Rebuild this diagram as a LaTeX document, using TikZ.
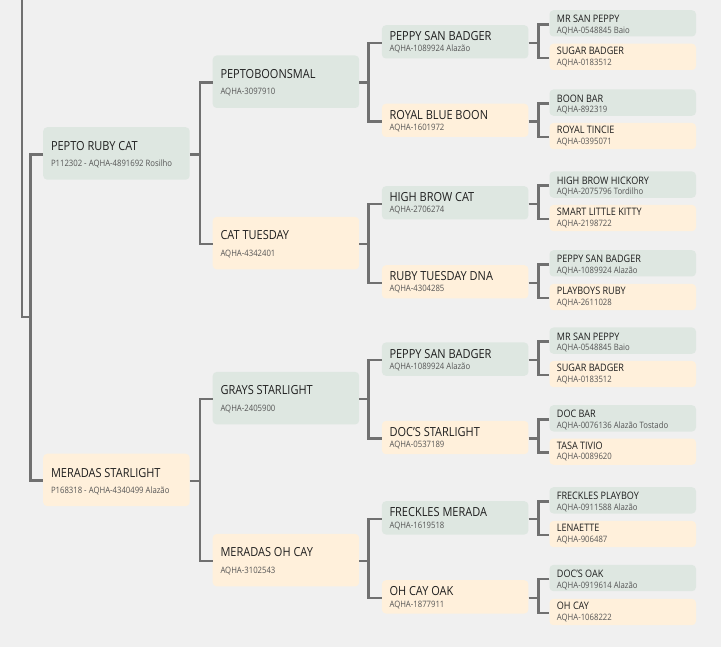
\documentclass[tikz,border=0pt]{standalone}
\usepackage{fontspec}
\setmainfont{Open Sans}[FakeStretch=0.88]
\definecolor{bgc}{RGB}{240,240,240}
\definecolor{grn}{RGB}{222,231,225}
\definecolor{crm}{RGB}{255,240,219}
\definecolor{lnc}{RGB}{112,112,112}
\definecolor{ttc}{RGB}{30,30,30}
\definecolor{sbc}{RGB}{85,85,85}
\tikzset{
  box/.style={rectangle,rounded corners=4pt,inner sep=0pt,draw=none,anchor=north west,minimum width=146.5pt},
  gbox/.style={box,fill=grn},
  cbox/.style={box,fill=crm},
  conn/.style={draw=lnc,line width=2.6pt},
  ttlA/.style={inner sep=0pt,anchor=base west,text=ttc,font=\fontsize{12.5}{14}\selectfont},
  ttlB/.style={inner sep=0pt,anchor=base west,text=ttc,font=\fontsize{10.3}{12}\selectfont},
  subt/.style={inner sep=0pt,anchor=base west,text=sbc,font=\fontsize{8.8}{10}\selectfont},
}
% big boxes (generations 1 and 2): name, x, ytop, style, title, sub, title offset, sub offset
\newcommand\horseA[8]{%
  \node[#4,minimum height=52.5pt] (#1) at (#2,#3) {};
  \node[ttlA] (#1t) at ([xshift=7.8pt,yshift=-#7]#1.north west) {#5};
  \node[subt] (#1s) at ([xshift=7.8pt,yshift=-#8]#1.north west) {#6};
}
% generation 3
\newcommand\horseB[6]{%
  \node[#4,minimum height=33.3pt] (#1) at (#2,#3) {};
  \node[ttlA] (#1t) at ([xshift=7.6pt,yshift=-15.8pt]#1.north west) {#5};
  \node[subt] (#1s) at ([xshift=7.6pt,yshift=-27pt]#1.north west) {#6};
}
% generation 4
\newcommand\horseC[8]{%
  \node[#4,minimum height=26.3pt] (#1) at (#2,#3) {};
  \node[ttlB] (#1t) at ([xshift=7.4pt,yshift=-#7]#1.north west) {#5};
  \node[subt] (#1s) at ([xshift=7.4pt,yshift=-#8]#1.north west) {#6};
}
\newcommand\horseG[6]{\horseC{#1}{#2}{#3}{gbox}{#5}{#6}{12.8pt}{23.6pt}}
\newcommand\horseK[6]{\horseC{#1}{#2}{#3}{cbox}{#5}{#6}{10.8pt}{21.6pt}}
% parent, child1, child2, bracket x
\newcommand\famlink[4]{%
  \coordinate (#1o) at ([yshift=-1pt]#1.east);
  \coordinate (#2i) at ([yshift=-1pt]#2.west);
  \coordinate (#3i) at ([yshift=-1pt]#3.west);
  \coordinate (#1k) at (#4,0);
  \draw[conn] (#1o) -- (#1o -| #1k);
  \draw[conn] (#2i) -| (#3i -| #1k) -- (#3i);
}
\newcommand\aps{{\char"0027}}
\begin{document}
\begin{tikzpicture}[x=1pt,y=-1pt]
\fill[bgc] (0,0) rectangle (721,647);
\useasboundingbox (0,0) rectangle (721,647);

% generation 1
\horseA{prc}{43}{127}{gbox}{PEPTO RUBY CAT}{P112302 - AQHA-4891692 Rosilho}{24pt}{40pt}
\horseA{ms}{43}{453.5}{cbox}{MERADAS STARLIGHT}{P168318 - AQHA-4340499 Alazão}{24pt}{40pt}
% generation 2
\horseA{pb}{212.5}{55.3}{gbox}{PEPTOBOONSMAL}{AQHA-3097910}{23pt}{39.5pt}
\horseA{ct}{212.5}{216.7}{cbox}{CAT TUESDAY}{AQHA-4342401}{23pt}{39.5pt}
\horseA{gs}{212.5}{371.7}{gbox}{GRAYS STARLIGHT}{AQHA-2405900}{23pt}{39.5pt}
\horseA{moc}{212.5}{533.7}{cbox}{MERADAS OH CAY}{AQHA-3102543}{23pt}{39.5pt}
% generation 3
\horseB{psba}{381.7}{25}{gbox}{PEPPY SAN BADGER}{AQHA-1089924 Alazão}
\horseB{rbb}{381.7}{103.5}{cbox}{ROYAL BLUE BOON}{AQHA-1601972}
\horseB{hbc}{381.7}{186}{gbox}{HIGH BROW CAT}{AQHA-2706274}
\horseB{rtd}{381.7}{265}{cbox}{RUBY TUESDAY DNA}{AQHA-4304285}
\horseB{psbb}{381.7}{342.3}{gbox}{PEPPY SAN BADGER}{AQHA-1089924 Alazão}
\horseB{dst}{381.7}{420.7}{cbox}{DOC\aps S STARLIGHT}{AQHA-0537189}
\horseB{fm}{381.7}{501}{gbox}{FRECKLES MERADA}{AQHA-1619518}
\horseB{oco}{381.7}{580}{cbox}{OH CAY OAK}{AQHA-1877911}
% generation 4
\horseG{mspa}{549.3}{10}{}{MR SAN PEPPY}{AQHA-0548845 Baio}
\horseK{sba}{549.3}{43.5}{}{SUGAR BADGER}{AQHA-0183512}
\horseG{bb}{549.3}{89.3}{}{BOON BAR}{AQHA-892319}
\horseK{rt}{549.3}{122.7}{}{ROYAL TINCIE}{AQHA-0395071}
\horseG{hbh}{549.3}{171.3}{}{HIGH BROW HICKORY}{AQHA-2075796 Tordilho}
\horseK{slk}{549.3}{204.7}{}{SMART LITTLE KITTY}{AQHA-2198722}
\horseG{psbc}{549.3}{250}{}{PEPPY SAN BADGER}{AQHA-1089924 Alazão}
\horseK{pr}{549.3}{283.7}{}{PLAYBOYS RUBY}{AQHA-2611028}
\horseG{mspb}{549.3}{327.3}{}{MR SAN PEPPY}{AQHA-0548845 Baio}
\horseK{sbb}{549.3}{360.7}{}{SUGAR BADGER}{AQHA-0183512}
\horseG{db}{549.3}{405}{}{DOC BAR}{AQHA-0076136 Alazão Tostado}
\horseK{tt}{549.3}{438.3}{}{TASA TIVIO}{AQHA-0089620}
\horseG{fp}{549.3}{487}{}{FRECKLES PLAYBOY}{AQHA-0911588 Alazão}
\horseK{len}{549.3}{520.7}{}{LENAETTE}{AQHA-906487}
\horseG{dok}{549.3}{564.7}{}{DOC\aps S OAK}{AQHA-0919614 Alazão}
\horseK{oc}{549.3}{598.7}{}{OH CAY}{AQHA-1068222}

% trunk from above
\coordinate (trunk) at (22,0);
\coordinate (rootk) at (30.7,317);
\draw[conn] (trunk) |- (rootk);
\coordinate (prci) at ([yshift=-1pt]prc.west);
\coordinate (msi) at ([yshift=-0.5pt]ms.west);
\draw[conn] (prci) -| (msi -| rootk) -- (msi);

% generation 1 -> 2
\famlink{prc}{pb}{ct}{200}
\famlink{ms}{gs}{moc}{200}
% generation 2 -> 3
\famlink{pb}{psba}{rbb}{368.5}
\famlink{ct}{hbc}{rtd}{368.5}
\famlink{gs}{psbb}{dst}{368.5}
\famlink{moc}{fm}{oco}{368.5}
% generation 3 -> 4
\famlink{psba}{mspa}{sba}{538.3}
\famlink{rbb}{bb}{rt}{538.3}
\famlink{hbc}{hbh}{slk}{538.3}
\famlink{rtd}{psbc}{pr}{538.3}
\famlink{psbb}{mspb}{sbb}{538.3}
\famlink{dst}{db}{tt}{538.3}
\famlink{fm}{fp}{len}{538.3}
\famlink{oco}{dok}{oc}{538.3}
\end{tikzpicture}
\end{document}
